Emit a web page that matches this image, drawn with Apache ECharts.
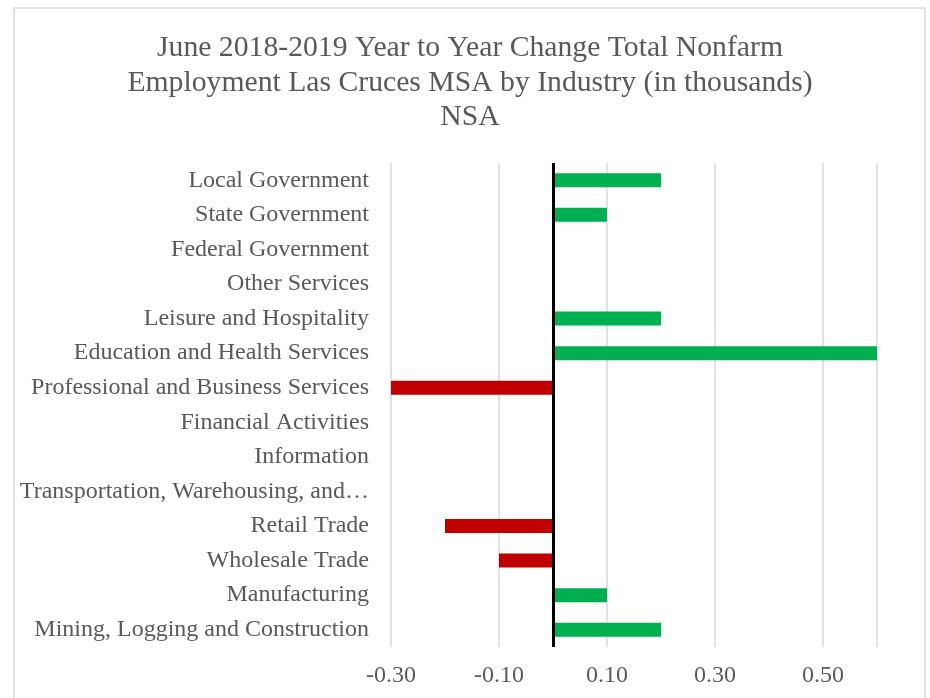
<!DOCTYPE html>
<html>
<head>
<meta charset="utf-8">
<script src="https://cdn.jsdelivr.net/npm/echarts@6/dist/echarts.min.js"></script>
<style>
  html, body { margin: 0; padding: 0; background: #fff; }
  #container { width: 930px; height: 698px; }
</style>
</head>
<body>
<div id="container"></div>
<script>
// categories, top to bottom as shown
var industries = [
	'Local Government', 'State Government', 'Federal Government', 'Other Services',
	'Leisure and Hospitality', 'Education and Health Services',
	'Professional and Business Services', 'Financial Activities', 'Information',
	'Transportation, Warehousing, and Utilities', 'Retail Trade', 'Wholesale Trade',
	'Manufacturing', 'Mining, Logging and Construction'
];
// year to year change, thousands
var changes = [0.2, 0.1, 0, 0, 0.2, 0.6, -0.3, 0, 0, 0, -0.2, -0.1, 0.1, 0.2];
var xTicks = { min: -0.3, max: 0.6, interval: 0.2 };

var dom = document.getElementById('container');
var myChart = echarts.init(dom);
var font = '"Liberation Serif", "DejaVu Serif", serif';

var option = {
	animation: false,
	textStyle: { fontFamily: font },
	title: {
		text: 'June 2018-2019 Year to Year Change Total Nonfarm\nEmployment Las Cruces MSA by Industry (in thousands)\nNSA',
		left: 470,
		top: 31,
		padding: 0,
		textAlign: 'center',
		textStyle: {
			fontFamily: font,
			fontSize: 29.7,
			fontWeight: 'normal',
			color: '#595959',
			lineHeight: 34.5
		}
	},
	graphic: [{
		type: 'rect',
		shape: { x: 14, y: 8, width: 911, height: 700 },
		style: { fill: 'none', stroke: '#d9d9d9', lineWidth: 1.5 },
		silent: true
	}],
	grid: { left: 391, right: 53, top: 163, bottom: 51, containLabel: false },
	xAxis: {
		type: 'value',
		min: xTicks.min,
		max: xTicks.max,
		interval: xTicks.interval,
		axisLine: { show: false },
		axisTick: { show: false },
		axisLabel: {
			fontSize: 24,
			color: '#595959',
			margin: 17,
			showMaxLabel: false,
			formatter: function (v) { return v.toFixed(2); }
		},
		splitLine: { lineStyle: { color: '#d9d9d9', width: 1.5 } }
	},
	yAxis: {
		type: 'category',
		inverse: true,
		data: industries,
		axisLine: { show: false },
		axisTick: { show: false },
		axisLabel: {
			fontSize: 24,
			color: '#595959',
			margin: 22,
			width: 360,
			overflow: 'truncate',
			ellipsis: '…'
		}
	},
	series: [{
		type: 'bar',
		barWidth: 14,
		data: changes.map(function (v) {
			return { value: v, itemStyle: { color: v < 0 ? '#C00000' : '#00B050' } };
		}),
		markLine: {
			silent: true,
			symbol: 'none',
			label: { show: false },
			lineStyle: { color: '#000', width: 3, type: 'solid' },
			data: [{ xAxis: 0 }]
		}
	}]
};
myChart.setOption(option, true);
</script>
</body>
</html>
